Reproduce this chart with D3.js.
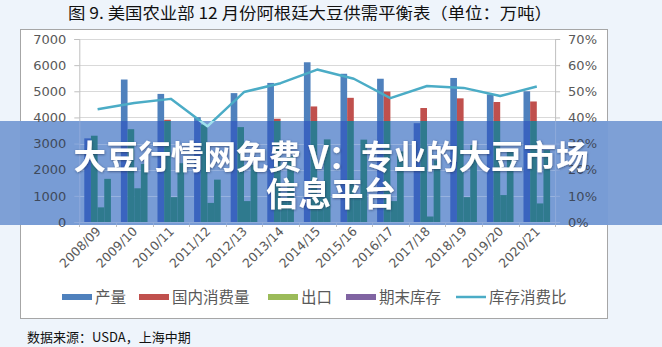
<!DOCTYPE html>
<html><head><meta charset="utf-8">
<script src="https://cdn.jsdelivr.net/npm/d3@7"></script>
<style>html,body{margin:0;padding:0;background:#EEF4FB;}svg{display:block;}</style>
</head><body>
<script>
const categories = ['2008/09','2009/10','2010/11','2011/12','2012/13','2013/14','2014/15','2015/16','2016/17','2017/18','2018/19','2019/20','2020/21'];
const production  = [3200, 5450, 4900, 4010, 4930, 5320, 6110, 5670, 5480, 3780, 5510, 4880, 5000];
const consumption = [3300, 3550, 3910, 3730, 3630, 3950, 4420, 4750, 4990, 4360, 4730, 4590, 4610];
const exportsArr  = [ 560, 1290,  950,  730,  800,  800, 1000,  990,  800,  210,  950, 1030,  710];
const stocks      = [1650, 2220, 2250, 1620, 2190, 2520, 3160, 3150, 2700, 2360, 2940, 2710, 2750];
const ratio       = [43.1, 45.5, 47.1, 36.6, 49.7, 53.1, 58.3, 54.8, 47.4, 52.0, 51.3, 48.2, 51.8];
const leftTicks  = [0,1000,2000,3000,4000,5000,6000,7000];
const rightTicks = [0,10,20,30,40,50,60,70];
const seriesNames = ['产量','国内消费量','出口','期末库存'];
const lineName = '库存消费比';
const titleText = '图 9.  美国农业部 12 月份阿根廷大豆供需平衡表（单位：万吨）';
const sourceText = '数据来源：USDA，上海中期';
const watermark1 = '大豆行情网免费 V：专业的大豆市场';
const watermark2 = '信息平台';

const barSeries = [production, consumption, exportsArr, stocks];
const colors = ['#4F81BD','#C0504D','#9BBB59','#8064A2'];
const bandColors = ['#3A64BF','#2F7A8E','#2F7A8E','#2F7A8E'];
const lineColor = '#4BACC6';

const W = 662, H = 347;
const svg = d3.select('body').append('svg').attr('width', W).attr('height', H);
svg.append('rect').attr('width', W).attr('height', H).attr('fill', '#EEF4FB');

svg.append('text').attr('x', 310).attr('y', 19).attr('text-anchor','middle')
  .attr('font-family','"Noto Sans CJK SC"').attr('font-size', 16).attr('fill','#111')
  .attr('textLength', 484).attr('lengthAdjust','spacingAndGlyphs').text(titleText);

svg.append('rect').attr('x', 20.5).attr('y', 29.5).attr('width', 587).attr('height', 289)
  .attr('fill', '#fff').attr('stroke', '#A6A6A6');

const plotL = 79.3, plotR = 555.1, plotT = 39, plotB = 222;
const x0 = d3.scaleBand().domain(categories).range([plotL, plotR]);
const x1 = d3.scaleBand().domain(d3.range(4)).range([0, x0.bandwidth()]).paddingOuter(0.75);
const y = d3.scaleLinear().domain([0, 7000]).range([plotB, plotT]);
const y2 = d3.scaleLinear().domain([0, 70]).range([plotB, plotT]);

function drawChart(g, band) {
  const axisCol = band ? '#8FAADB' : '#BFBFBF';
  g.append('g').selectAll('line').data(leftTicks.slice(1)).join('line')
    .attr('x1', plotL).attr('x2', plotR)
    .attr('y1', d => Math.round(y(d)) + 0.5).attr('y2', d => Math.round(y(d)) + 0.5)
    .attr('stroke', band ? '#97B2DE' : '#D9D9D9');
  barSeries.forEach((vals, si) => {
    g.append('g').selectAll('rect').data(vals).join('rect')
      .attr('x', (d, i) => x0(categories[i]) + x1(si))
      .attr('width', x1.bandwidth())
      .attr('y', d => y(d)).attr('height', d => plotB - y(d))
      .attr('fill', band ? bandColors[si] : colors[si]);
  });
  const ga = g.append('g').attr('transform', `translate(${plotL},0)`)
    .call(d3.axisLeft(y).tickValues(leftTicks).tickSize(5).tickFormat(''));
  const gr = g.append('g').attr('transform', `translate(${plotR},0)`)
    .call(d3.axisRight(y2).tickValues(rightTicks).tickSize(5).tickFormat(''));
  [ga, gr].forEach(a => {
    a.selectAll('path').attr('stroke', axisCol);
    a.selectAll('line').attr('stroke', axisCol);
    a.selectAll('text').remove();
  });
  g.append('line').attr('x1', plotL).attr('x2', plotR).attr('y1', plotB + 0.5).attr('y2', plotB + 0.5)
    .attr('stroke', axisCol);
  const bounds = categories.map(c => x0(c)).concat([plotR]);
  g.append('g').selectAll('line').data(bounds).join('line')
    .attr('x1', d => Math.round(d) + 0.5).attr('x2', d => Math.round(d) + 0.5)
    .attr('y1', plotB).attr('y2', plotB + 5).attr('stroke', axisCol);
  const line = d3.line().x((d, i) => x0(categories[i]) + x0.bandwidth() / 2).y(d => y2(d));
  g.append('path').datum(ratio).attr('d', line).attr('fill', 'none')
    .attr('stroke', band ? '#9FE0EE' : lineColor).attr('stroke-width', 2.5).attr('stroke-linejoin','round');
}

drawChart(svg.append('g'), false);

svg.append('g').selectAll('text').data(categories).join('text')
  .attr('transform', d => `translate(${x0(d) + x0.bandwidth() / 2 + 4},${plotB + 10}) rotate(-45)`)
  .attr('text-anchor', 'end').attr('font-family','"DejaVu Sans"').attr('font-size', 12.5)
  .attr('fill', '#595959').text(d => d);

const legendX = [62, 139, 268, 346, 456];
const legendY = 297;
const lg = svg.append('g');
seriesNames.forEach((n, i) => {
  lg.append('rect').attr('x', legendX[i]).attr('y', legendY - 3).attr('width', 30).attr('height', 6).attr('fill', colors[i]);
  lg.append('text').attr('x', legendX[i] + 33).attr('y', legendY + 5.5).attr('font-family','"Noto Sans CJK SC"')
    .attr('font-size', 15.5).attr('fill', '#595959').text(n);
});
lg.append('line').attr('x1', legendX[4]).attr('x2', legendX[4] + 30).attr('y1', legendY).attr('y2', legendY)
  .attr('stroke', lineColor).attr('stroke-width', 2.5);
lg.append('text').attr('x', legendX[4] + 33).attr('y', legendY + 5.5).attr('font-family','"Noto Sans CJK SC"')
  .attr('font-size', 15.5).attr('fill', '#595959').text(lineName);

svg.append('text').attr('x', 27).attr('y', 342).attr('font-family','"Noto Sans CJK SC"')
  .attr('font-size', 13).attr('fill', '#111').text(sourceText);

const bandTop = 121, bandBot = 225;
const defs = svg.append('defs');
defs.append('clipPath').attr('id', 'bandclip').append('rect')
  .attr('x', 0).attr('y', bandTop).attr('width', W).attr('height', bandBot - bandTop);
const f = defs.append('filter').attr('id','shadow').attr('x','-10%').attr('y','-30%').attr('width','120%').attr('height','160%');
f.append('feDropShadow').attr('dx', 0.5).attr('dy', 0.8).attr('stdDeviation', 1.2).attr('flood-color', '#1a2a50').attr('flood-opacity', 0.6);

const bg = svg.append('g').attr('clip-path', 'url(#bandclip)');
bg.append('rect').attr('x', 0).attr('y', bandTop).attr('width', W).attr('height', bandBot - bandTop).attr('fill', '#7EA0D6');
bg.append('rect').attr('x', 20).attr('y', bandTop).attr('width', 588).attr('height', bandBot - bandTop).attr('fill', '#789CD5');
drawChart(bg, true);

svg.append('g').selectAll('text').data(leftTicks).join('text')
  .attr('x', plotL - 13).attr('y', d => y(d)).attr('dy', '0.36em').attr('text-anchor', 'end')
  .attr('font-family','"DejaVu Sans"').attr('font-size', 13)
  .attr('fill', d => (y(d) > bandTop && y(d) < bandBot + 5) ? '#3F4A5C' : '#595959').text(d => d);
svg.append('g').selectAll('text').data(rightTicks).join('text')
  .attr('x', plotR + 13).attr('y', d => y2(d)).attr('dy', '0.36em').attr('text-anchor', 'start')
  .attr('font-family','"DejaVu Sans"').attr('font-size', 13)
  .attr('fill', d => (y2(d) > bandTop && y2(d) < bandBot + 5) ? '#3F4A5C' : '#595959').text(d => d + '%');

svg.append('text').attr('x', 331).attr('y', 169).attr('text-anchor','middle')
  .attr('font-family','"Noto Sans CJK SC"').attr('font-weight', 700).attr('font-size', 32.5)
  .attr('fill', '#fff').attr('filter','url(#shadow)').text(watermark1);
svg.append('text').attr('x', 331).attr('y', 206).attr('text-anchor','middle')
  .attr('font-family','"Noto Sans CJK SC"').attr('font-weight', 700).attr('font-size', 32.5)
  .attr('fill', '#fff').attr('filter','url(#shadow)').text(watermark2);
</script>
</body></html>
